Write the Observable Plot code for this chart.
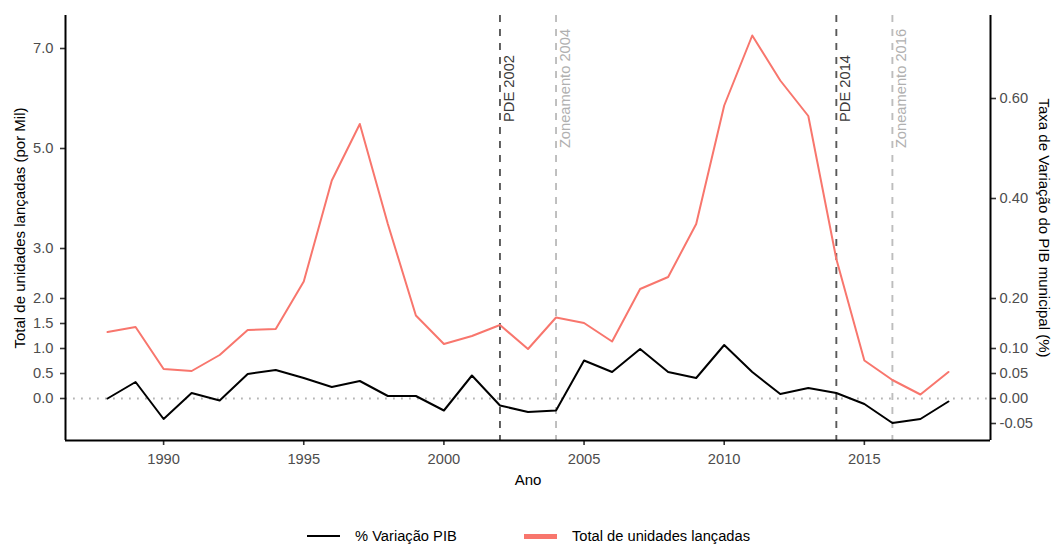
<!DOCTYPE html>
<html lang="pt-BR">
<head>
<meta charset="utf-8">
<script src="https://cdn.jsdelivr.net/npm/d3@7"></script>
<script src="https://cdn.jsdelivr.net/npm/@observablehq/plot@0.6"></script>
<style>
  html, body { margin: 0; padding: 0; background: white; }
  #grafico { position: relative; width: 1054px; height: 544px; font-family: "Liberation Sans", Arial, sans-serif; }
  #legenda { position: absolute; left: 0; top: 524px; width: 1054px; height: 24px; font-size: 14.7px; color: black; }
  .chave { position: absolute; height: 0; }
  .rotulo { position: absolute; top: 3px; line-height: 18px; white-space: nowrap; }
</style>
</head>
<body>
<div id="grafico"></div>
<script>
// Anos da série
const anos = [1988, 1989, 1990, 1991, 1992, 1993, 1994, 1995, 1996, 1997,
              1998, 1999, 2000, 2001, 2002, 2003, 2004, 2005, 2006, 2007,
              2008, 2009, 2010, 2011, 2012, 2013, 2014, 2015, 2016, 2017, 2018];

// Total de unidades lançadas (milhares)
const unidades = [1.33, 1.43, 0.59, 0.55, 0.87, 1.37, 1.39, 2.34, 4.36, 5.49,
                  3.49, 1.66, 1.09, 1.25, 1.47, 0.99, 1.62, 1.51, 1.14, 2.19,
                  2.43, 3.49, 5.86, 7.26, 6.36, 5.65, 2.79, 0.76, 0.37, 0.08, 0.53];

// Taxa de variação do PIB municipal
const pibVar = [0.000, 0.033, -0.041, 0.011, -0.004, 0.049, 0.057, 0.041, 0.023, 0.035,
                0.005, 0.005, -0.024, 0.046, -0.014, -0.027, -0.024, 0.076, 0.053, 0.099,
                0.053, 0.041, 0.107, 0.053, 0.009, 0.021, 0.011, -0.011, -0.049, -0.041, -0.006];

// Marcos regulatórios
const marcosPDE = [{ano: 2002, rotulo: "PDE 2002"}, {ano: 2014, rotulo: "PDE 2014"}];
const marcosZoneamento = [{ano: 2004, rotulo: "Zoneamento 2004"}, {ano: 2016, rotulo: "Zoneamento 2016"}];

// Marcas dos eixos
const ticksAno = [1990, 1995, 2000, 2005, 2010, 2015];
const ticksUnidades = [0, 0.5, 1, 1.5, 2, 3, 5, 7];
const ticksPib = [-0.05, 0, 0.05, 0.10, 0.20, 0.40, 0.60];

// Fator do eixo secundário: PIB exibido em escala ×10 sobre o eixo principal
const fatorPib = 10;

const serieUnidades = anos.map((ano, i) => ({ano, valor: unidades[i]}));
const seriePib = anos.map((ano, i) => ({ano, valor: pibVar[i] * fatorPib}));

const xMin = 1986.5, xMax = 2019.5;
const yMin = -0.84, yMax = 7.66;

const eixo = {tickSize: 5, stroke: "#333", strokeWidth: 1.6, fill: "#4d4d4d", fontSize: 14.7, label: null};
const titulo = {text: d => d, fill: "black", fontSize: 15, textAnchor: "middle", lineAnchor: "middle"};

const grafico = Plot.plot({
  width: 1054,
  height: 505,
  marginLeft: 65,
  marginRight: 64,
  marginTop: 15,
  marginBottom: 65,
  x: {domain: [xMin, xMax]},
  y: {domain: [yMin, yMax]},
  style: {fontFamily: "'Liberation Sans', Arial, sans-serif", fontSize: "14.7px", background: "white"},
  marks: [
    Plot.ruleY([0], {stroke: "#b5b5b5", strokeWidth: 1.8, strokeDasharray: "1.8,6.2"}),
    Plot.ruleX(marcosZoneamento, {x: "ano", stroke: "#bdbdbd", strokeWidth: 1.9, strokeDasharray: "7,7"}),
    Plot.ruleX(marcosPDE, {x: "ano", stroke: "#595959", strokeWidth: 1.9, strokeDasharray: "7,7"}),
    Plot.line(seriePib, {x: "ano", y: "valor", stroke: "black", strokeWidth: 2}),
    Plot.line(serieUnidades, {x: "ano", y: "valor", stroke: "#F8766D", strokeWidth: 2}),
    Plot.text(marcosPDE, {x: "ano", y: 6.2, text: "rotulo", rotate: -90, dx: 9, fill: "#3a3a3a", fontSize: 14.7}),
    Plot.text(marcosZoneamento, {x: "ano", y: 6.2, text: "rotulo", rotate: -90, dx: 9, fill: "#b0b0b0", fontSize: 14.7}),
    Plot.axisX({...eixo, ticks: ticksAno, tickFormat: d => String(d), tickPadding: 8}),
    Plot.axisY({...eixo, anchor: "left", ticks: ticksUnidades, tickFormat: d => d.toFixed(1), tickPadding: 7}),
    Plot.axisY({...eixo, anchor: "right", ticks: ticksPib.map(v => v * fatorPib),
                tickFormat: v => (v / fatorPib).toFixed(2), tickPadding: 4}),
    Plot.ruleX([xMin], {stroke: "black", strokeWidth: 2}),
    Plot.ruleX([xMax], {stroke: "black", strokeWidth: 2}),
    Plot.ruleY([yMin], {stroke: "black", strokeWidth: 2}),
    Plot.text(["Total de unidades lançadas (por Mil)"], {...titulo, frameAnchor: "left", dx: -45, rotate: -90}),
    Plot.text(["Taxa de Variação do PIB municipal (%)"], {...titulo, frameAnchor: "right", dx: 53, rotate: 90}),
    Plot.text(["Ano"], {...titulo, frameAnchor: "bottom", dy: 40})
  ]
});

const alvo = document.getElementById("grafico");
alvo.appendChild(grafico);

// Legenda abaixo do gráfico
const itensLegenda = [
  {nome: "% Variação PIB", cor: "black", espessura: 2, chaveX: 307, textoX: 355},
  {nome: "Total de unidades lançadas", cor: "#F8766D", espessura: 5, chaveX: 524, textoX: 572}
];
const legenda = d3.select(alvo).append("div").attr("id", "legenda");
itensLegenda.forEach(item => {
  legenda.append("div").attr("class", "chave")
    .style("left", item.chaveX + "px")
    .style("top", (12 - item.espessura / 2) + "px")
    .style("width", "33px")
    .style("border-top", `${item.espessura}px solid ${item.cor}`);
  legenda.append("div").attr("class", "rotulo")
    .style("left", item.textoX + "px")
    .text(item.nome);
});
</script>
</body>
</html>
